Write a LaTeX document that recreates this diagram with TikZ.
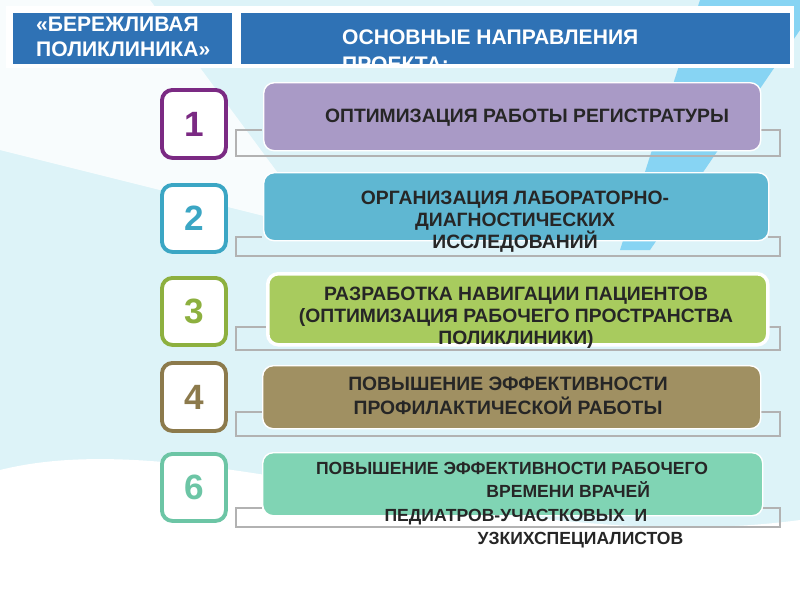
\documentclass[tikz,border=0pt]{standalone}
\usepackage{fontspec}
\setmainfont{Liberation Sans}
\begin{document}
\begin{tikzpicture}[x=0.02cm,y=-0.02cm,
 hdr/.style={fill=hblue,draw=white,line width=1.5pt},
 numbox/.style={draw=#1,line width=2.2pt,fill=white,rounded corners=6pt},
 main/.style={fill=#1,draw=white,line width=0.8pt,rounded corners=6pt},
 brk/.style={draw=gray!60,line width=1.2pt},
 lbl/.style={font=\bfseries\fontsize{11}{12.5}\selectfont,align=center,text=black!85},
 num/.style={font=\bfseries\fontsize{20}{22}\selectfont}]
\definecolor{hblue}{HTML}{2F72B5}
\definecolor{bg}{HTML}{DDF3F8}
\useasboundingbox (0,0) rectangle (800,600);
\fill[bg] (0,0) rectangle (800,600);
\fill[white] (0,600) -- (0,470) .. controls (200,420) and (500,560) .. (800,520) -- (800,600) -- cycle;
\fill[white,opacity=0.8] (0,0) -- (150,0) -- (320,230) -- (0,150) -- cycle;
\fill[cyan!40!bg] (700,0) -- (800,0) -- (800,30) -- (650,250) -- (620,250) -- cycle;
\fill[white] (6,6) rectangle (794,68);
\node[hdr,minimum width=222*0.02cm,minimum height=54*0.02cm,anchor=north west] (h1) at (10,10) {};
\node[anchor=west,text=white,font=\bfseries\fontsize{12}{14}\selectfont,align=left] (h1t) at (30,37) {«БЕРЕЖЛИВАЯ\\ПОЛИКЛИНИКА»};
\node[hdr,minimum width=552*0.02cm,minimum height=54*0.02cm,anchor=north west] (h2) at (238,10) {};
\begin{scope}
\clip (238,10) rectangle (790,64);
\node[anchor=north west,text=white,font=\bfseries\fontsize{12}{15}\selectfont,align=left] (h2t) at (336,24) {ОСНОВНЫЕ НАПРАВЛЕНИЯ\\ПРОЕКТА:};
\end{scope}
% rows
\foreach \y/\h/\c/\n in {88/68/7B2A83/1,183/67/3BA6C4/2,276/67/8DB03F/3,361/68/8C7A4C/4,452/67/6CC5A5/6}{
 \definecolor{tmp}{HTML}{\c}
 \node[numbox=tmp,minimum width=64*0.02cm,minimum height=\h*0.02cm,anchor=north west,text=tmp,num] (n\n) at (160,\y) {\n};
}
\draw[brk] (262,130) -- (236,130) -- (236,156) -- (780,156) -- (780,130) -- (760,130);
\draw[brk] (262,237) -- (236,237) -- (236,256) -- (780,256) -- (780,237) -- (768,237);
\draw[brk] (266,327) -- (236,327) -- (236,350) -- (780,350) -- (780,327) -- (766,327);
\draw[brk] (262,412) -- (236,412) -- (236,436) -- (780,436) -- (780,412) -- (760,412);
\draw[brk] (262,508) -- (236,508) -- (236,527) -- (780,527) -- (780,508) -- (762,508);
\definecolor{c1}{HTML}{A99AC6}\definecolor{c2}{HTML}{5FB7D2}\definecolor{c3}{HTML}{A8CB5E}\definecolor{c4}{HTML}{A09062}\definecolor{c6}{HTML}{80D4B4}
\node[main=c1,minimum width=497*0.02cm,minimum height=68*0.02cm,anchor=north west] (b1) at (263,82) {};
\node[lbl] (t1) at (527,118) {ОПТИМИЗАЦИЯ РАБОТЫ РЕГИСТРАТУРЫ};
\node[main=c2,minimum width=505*0.02cm,minimum height=68*0.02cm,anchor=north west] (b2) at (263,172) {};
\node[lbl] (t2) at (515,222) {ОРГАНИЗАЦИЯ ЛАБОРАТОРНО-\\ДИАГНОСТИЧЕСКИХ\\ИССЛЕДОВАНИЙ};
\node[main=c3,draw=white,line width=2pt,minimum width=500*0.02cm,minimum height=71*0.02cm,anchor=north west] (b3) at (266,272) {};
\node[lbl] (t3) at (516,318) {РАЗРАБОТКА НАВИГАЦИИ ПАЦИЕНТОВ\\(ОПТИМИЗАЦИЯ РАБОЧЕГО ПРОСТРАНСТВА\\ПОЛИКЛИНИКИ)};
\node[main=c4,minimum width=498*0.02cm,minimum height=63*0.02cm,anchor=north west] (b4) at (262,365) {};
\node[lbl,font=\bfseries\fontsize{11}{14}\selectfont] (t4) at (508,396) {ПОВЫШЕНИЕ ЭФФЕКТИВНОСТИ\\ПРОФИЛАКТИЧЕСКОЙ РАБОТЫ};
\node[main=c6,minimum width=500*0.02cm,minimum height=63*0.02cm,anchor=north west] (b6) at (262,452) {};
\node[lbl,font=\bfseries\fontsize{10}{13.3}\selectfont,align=left] (t6) at (512,505) {ПОВЫШЕНИЕ ЭФФЕКТИВНОСТИ РАБОЧЕГО\\\hspace*{9.7em}ВРЕМЕНИ ВРАЧЕЙ\\\hspace*{3.9em}ПЕДИАТРОВ-УЧАСТКОВЫХ\ \ И\\\hspace*{9.2em}УЗКИХСПЕЦИАЛИСТОВ};
\end{tikzpicture}
\end{document}
